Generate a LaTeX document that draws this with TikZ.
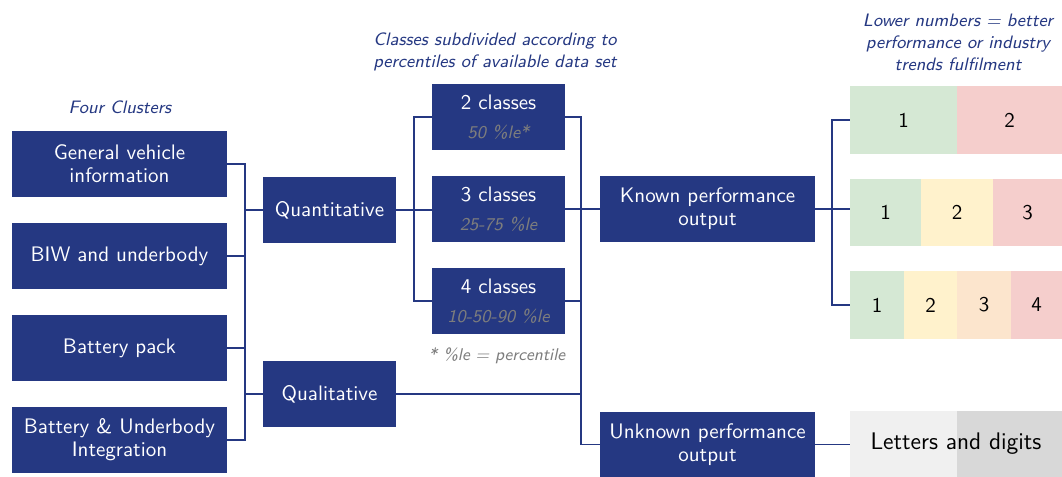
\documentclass[tikz,border=0pt]{standalone}
\usepackage{fontspec}
\begin{document}
\definecolor{navy}{RGB}{37,56,130}
\definecolor{pctgray}{RGB}{125,125,125}
\definecolor{cgreen}{RGB}{213,232,212}
\definecolor{cyellow}{RGB}{255,242,204}
\definecolor{corange}{RGB}{252,229,205}
\definecolor{cred}{RGB}{245,206,204}
\definecolor{clight}{RGB}{240,240,240}
\definecolor{cdark}{RGB}{216,216,216}
\newcommand{\pctline}[1]{{\color{pctgray}\itshape\fontsize{9}{10}\selectfont #1}}
\begin{tikzpicture}[x=0.5pt,y=-0.5pt,
  font=\sffamily\fontsize{10.5}{11.5}\selectfont,
  bluebox/.style={fill=navy,text=white,inner sep=0pt,align=center,minimum height=33pt},
  widebox/.style={bluebox,minimum width=107.5pt},
  narrowbox/.style={bluebox,minimum width=66.5pt},
  cell/.style={inner sep=0pt,text=black,font=\sffamily\fontsize{10.5}{12}\selectfont},
  pct/.style={text=pctgray,font=\sffamily\itshape\fontsize{8.5}{10}\selectfont},
  caption/.style={text=navy,align=center,font=\sffamily\itshape\fontsize{9}{11}\selectfont},
  link/.style={draw=navy,line width=0.75pt}]
\useasboundingbox (0,0) rectangle (1062,477);

% captions
\node[caption] (capclusters) at (120,107) {Four Clusters};
\node[caption] (capclasses) at (495,52) {Classes subdivided according to\\percentiles of available data set};
\node[caption] (caplower) at (958,42) {Lower numbers = better\\performance or industry\\trends fulfilment};

% clusters
\node[widebox] (c1) at (119.5,164) {General vehicle\\information};
\node[widebox] (c2) at (119.5,256) {BIW and underbody};
\node[widebox] (c3) at (119.5,348) {Battery pack};
\node[widebox] (c4) at (119.5,440) {Battery \& Underbody\\Integration};

% data types
\node[narrowbox] (quan) at (329.5,210) {Quantitative};
\node[narrowbox] (qual) at (329.5,394) {Qualitative};

% class counts
\node[narrowbox] (k2) at (498.5,117) {2 classes\\[3pt]\pctline{50 \%le*}};
\node[narrowbox] (k3) at (498.5,209) {3 classes\\[3pt]\pctline{25-75 \%le}};
\node[narrowbox] (k4) at (498.5,301) {4 classes\\[3pt]\pctline{10-50-90 \%le}};
\node[pct] (note) at (497,356) {* \%le = percentile};

% outputs
\node[widebox] (known) at (707.5,209) {Known performance\\output};
\node[widebox] (unknown) at (707.5,444.5) {Unknown performance\\output};

% rating scales
\node[cell,fill=cgreen,minimum width=53.5pt,minimum height=34pt] (r1a) at (903.5,120) {1};
\node[cell,fill=cred,minimum width=52.5pt,minimum height=34pt] (r1b) at (1009.5,120) {2};

\node[cell,fill=cgreen,minimum width=35.5pt,minimum height=33.5pt] (r2a) at (885.5,212.5) {1};
\node[cell,fill=cyellow,minimum width=36pt,minimum height=33.5pt] (r2b) at (957,212.5) {2};
\node[cell,fill=cred,minimum width=34.5pt,minimum height=33.5pt] (r2c) at (1027.5,212.5) {3};

\node[cell,fill=cgreen,minimum width=27pt,minimum height=34pt] (r3a) at (877,305) {1};
\node[cell,fill=cyellow,minimum width=26.5pt,minimum height=34pt] (r3b) at (930.5,305) {2};
\node[cell,fill=corange,minimum width=27pt,minimum height=34pt] (r3c) at (984,305) {3};
\node[cell,fill=cred,minimum width=25.5pt,minimum height=34pt] (r3d) at (1036.5,305) {4};

\node[cell,fill=clight,minimum width=53.5pt,minimum height=33pt] (l1) at (903.5,444) {};
\node[cell,fill=cdark,minimum width=52.5pt,minimum height=33pt] (l2) at (1009.5,444) {};
\node[cell,font=\sffamily\fontsize{12}{14}\selectfont] (letters) at (956,444) {Letters and digits};

% bus positions
\coordinate (busA) at (245,0);
\coordinate (busB) at (414,0);
\coordinate (busC) at (581,0);
\coordinate (busD) at (832,0);

% clusters to data types
\draw[link] (c1.east) -- (c1.east -| busA) -- (c4.east -| busA) -- (c4.east);
\draw[link] (c2.east) -- (c2.east -| busA);
\draw[link] (c3.east) -- (c3.east -| busA);
\draw[link] (quan.west) -- (quan.west -| busA);
\draw[link] (qual.west) -- (qual.west -| busA);

% quantitative to class counts
\draw[link] (k2.west) -- (k2.west -| busB) -- (k4.west -| busB) -- (k4.west);
\draw[link] (quan.east) -- (quan.east -| k3.west);

% class counts and qualitative to outputs
\draw[link] (k2.east) -- (k2.east -| busC) -- (unknown.west -| busC) -- (unknown.west);
\draw[link] (k3.east) -- (known.west);
\draw[link] (k4.east) -- (k4.east -| busC);
\draw[link] (qual.east) -- (qual.east -| busC);

% outputs to scales
\draw[link] (r1a.west) -- (r1a.west -| busD) -- (r3a.west -| busD) -- (r3a.west);
\draw[link] (known.east) -- (known.east -| r2a.west);
\draw[link] (unknown.east) -- (unknown.east -| l1.west);
\end{tikzpicture}
\end{document}
